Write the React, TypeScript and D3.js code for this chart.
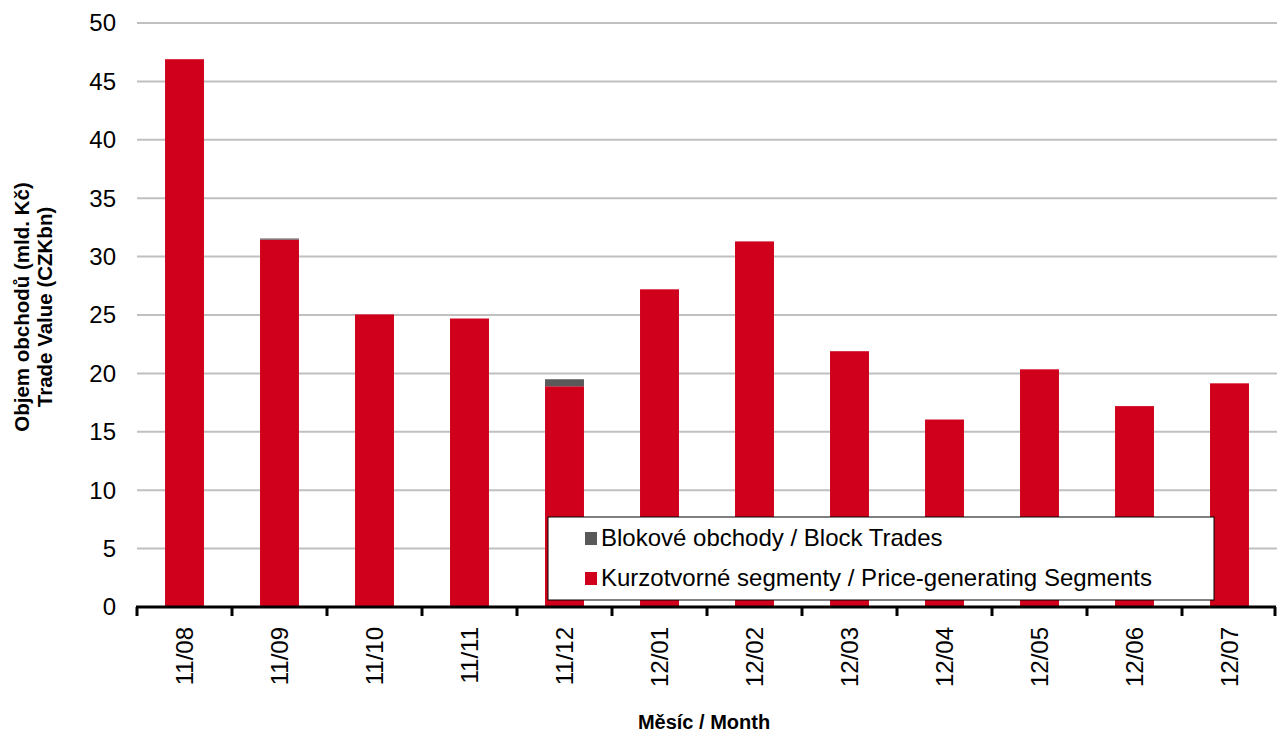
import React, { useEffect, useRef } from "react";
import * as d3 from "d3";

const months = ["11/08", "11/09", "11/10", "11/11", "11/12", "12/01", "12/02", "12/03", "12/04", "12/05", "12/06", "12/07"];
const priceSegments = [46.9, 31.45, 25.05, 24.7, 18.9, 27.2, 31.3, 21.9, 16.05, 20.35, 17.2, 19.15];
const blockTrades = [0, 0.1, 0, 0, 0.6, 0, 0, 0, 0, 0, 0, 0];
const yTicks = [0, 5, 10, 15, 20, 25, 30, 35, 40, 45, 50];

const seriesNames = ["Blokové obchody / Block Trades", "Kurzotvorné segmenty / Price-generating Segments"];
const RED = "#d0001c";
const GRAY = "#595959";

const W = 1277;
const H = 735;
const margin = { top: 23, right: 0, bottom: 128, left: 137 };

export default function App() {
  const svgRef = useRef<SVGSVGElement | null>(null);

  useEffect(() => {
    const svg = d3.select(svgRef.current);
    svg.selectAll("*").remove();
    const font = "Liberation Sans, Arial, sans-serif";

    const x = d3
      .scaleBand()
      .domain(months)
      .range([margin.left, W - margin.right])
      .paddingInner(0.59)
      .paddingOuter(0.295);
    const band = d3.scaleBand().domain(months).range([margin.left, W - margin.right]);
    const y = d3.scaleLinear().domain([0, 50]).range([H - margin.bottom, margin.top]);

    // gridlines
    svg
      .append("g")
      .selectAll("line")
      .data(yTicks.filter((t) => t > 0))
      .join("line")
      .attr("x1", margin.left)
      .attr("x2", W - margin.right)
      .attr("y1", (d) => y(d))
      .attr("y2", (d) => y(d))
      .attr("stroke", "#c0c0c0")
      .attr("stroke-width", 2);

    // y tick labels
    svg
      .append("g")
      .selectAll("text")
      .data(yTicks)
      .join("text")
      .attr("x", 116)
      .attr("y", (d) => y(d))
      .attr("dy", "0.35em")
      .attr("text-anchor", "end")
      .attr("font-family", font)
      .attr("font-size", 24)
      .attr("fill", "#000")
      .text((d) => d);

    // stacked bars
    const rows = months.map((m, i) => ({ m, price: priceSegments[i], block: blockTrades[i] }));
    const g = svg.append("g");
    g.selectAll("rect.price")
      .data(rows)
      .join("rect")
      .attr("class", "price")
      .attr("x", (d) => x(d.m)!)
      .attr("width", x.bandwidth())
      .attr("y", (d) => y(d.price))
      .attr("height", (d) => y(0) - y(d.price))
      .attr("fill", RED);
    g.selectAll("rect.block")
      .data(rows.filter((d) => d.block > 0))
      .join("rect")
      .attr("class", "block")
      .attr("x", (d) => x(d.m)!)
      .attr("width", x.bandwidth())
      .attr("y", (d) => y(d.price + d.block))
      .attr("height", (d) => y(d.price) - y(d.price + d.block))
      .attr("fill", GRAY);

    // x axis line + ticks
    const axis = svg.append("g");
    axis
      .append("line")
      .attr("x1", margin.left - 1)
      .attr("x2", W - 1)
      .attr("y1", y(0))
      .attr("y2", y(0))
      .attr("stroke", "#000")
      .attr("stroke-width", 3);
    const boundaries = months.map((m) => band(m)!).concat([W - margin.right - 2]);
    axis
      .selectAll("line.tick")
      .data(boundaries)
      .join("line")
      .attr("class", "tick")
      .attr("x1", (d) => d)
      .attr("x2", (d) => d)
      .attr("y1", y(0))
      .attr("y2", y(0) + 9)
      .attr("stroke", "#000")
      .attr("stroke-width", 3);

    // x labels
    axis
      .selectAll("text")
      .data(months)
      .join("text")
      .attr("transform", (d) => `translate(${band(d)! + band.bandwidth() / 2},627) rotate(-90)`)
      .attr("text-anchor", "end")
      .attr("dy", "0.35em")
      .attr("font-family", font)
      .attr("font-size", 24)
      .attr("fill", "#000")
      .text((d) => d);

    // axis titles
    svg
      .append("text")
      .attr("x", 704)
      .attr("y", 729)
      .attr("text-anchor", "middle")
      .attr("font-family", font)
      .attr("font-weight", "bold")
      .attr("font-size", 20)
      .text("Měsíc / Month");
    const yt = svg
      .append("text")
      .attr("transform", "translate(0,307) rotate(-90)")
      .attr("text-anchor", "middle")
      .attr("font-family", font)
      .attr("font-weight", "bold")
      .attr("font-size", 20.5);
    yt.append("tspan").attr("x", 0).attr("y", 29).text("Objem obchodů (mld. Kč)");
    yt.append("tspan").attr("x", 0).attr("y", 52).text("Trade Value (CZKbn)");

    // legend
    const lg = svg.append("g").attr("transform", "translate(548,517)");
    lg.append("rect")
      .attr("width", 666)
      .attr("height", 83)
      .attr("fill", "#fff")
      .attr("stroke", "#000")
      .attr("stroke-width", 1);
    const colors = [GRAY, RED];
    seriesNames.forEach((name, i) => {
      const cy = 21 + i * 40;
      lg.append("rect")
        .attr("x", 37)
        .attr("y", cy - 6)
        .attr("width", 12)
        .attr("height", 13)
        .attr("fill", colors[i]);
      lg.append("text")
        .attr("x", 53)
        .attr("y", cy)
        .attr("dy", "0.35em")
        .attr("font-family", font)
        .attr("font-size", 24)
        .attr("fill", "#000")
        .text(name);
    });
  }, []);

  return (
    <svg
      ref={svgRef}
      width={W}
      height={H}
      style={{ position: "absolute", left: 0, top: 0, background: "#fff" }}
    />
  );
}
